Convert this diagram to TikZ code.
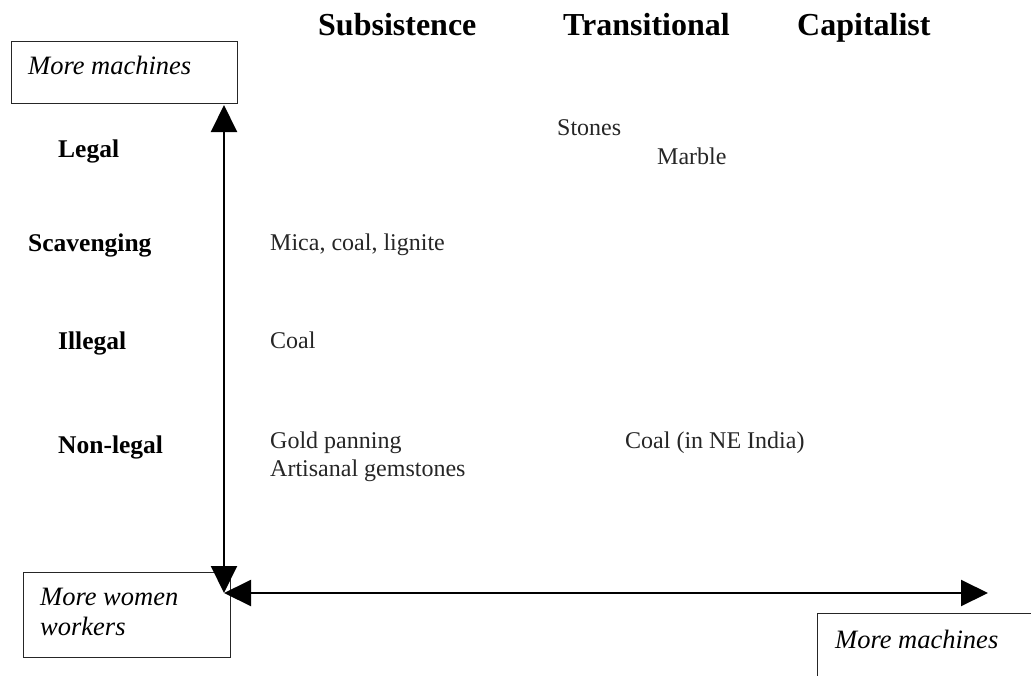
\documentclass[tikz,border=0pt]{standalone}
\usepackage{fontspec}
\setmainfont{Liberation Serif}
\usetikzlibrary{arrows.meta}
\tikzset{
  hdr/.style={anchor=base west, inner sep=0pt, font=\fontsize{32}{36}\selectfont\bfseries},
  rowlab/.style={anchor=base west, inner sep=0pt, font=\fontsize{25.5}{29}\selectfont\bfseries},
  item/.style={anchor=base west, inner sep=0pt, text=black!85, font=\fontsize{24}{28}\selectfont},
  boxtxt/.style={anchor=base west, inner sep=0pt, font=\fontsize{26.5}{30}\selectfont\itshape},
  framebox/.style={draw=black!85, line width=1.4pt},
  axis/.style={line width=2pt, {Triangle[length=27pt,width=26pt]}-{Triangle[length=27pt,width=26pt]}}
}
\begin{document}
\begin{tikzpicture}[x=1pt,y=-1pt]
\useasboundingbox (0,0) rectangle (1031,675);
\clip (0,0) rectangle (1031,675);
\fill[white] (0,0) rectangle (1031,675);
% headers
\node[hdr] (hsub) at (318,35) {Subsistence};
\node[hdr] (htra) at (563,35) {Transitional};
\node[hdr] (hcap) at (797,35) {Capitalist};
% boxes
\node[framebox, draw, minimum width=226pt, minimum height=62pt, anchor=north west, inner sep=0pt] (bmach) at (11,41) {};
\node[boxtxt] (tmach) at (28,74) {More machines};
\node[framebox, draw, minimum width=207pt, minimum height=85pt, anchor=north west, inner sep=0pt] (bwomen) at (23,572) {};
\node[boxtxt] (twomen1) at (40,605) {More women};
\node[boxtxt] (twomen2) at (40,635) {workers};
\node[framebox, draw, minimum width=240pt, minimum height=90pt, anchor=north west, inner sep=0pt] (bmach2) at (817,613) {};
\node[boxtxt] (tmach2) at (835,648) {More machines};
% row labels
\node[rowlab] (legal) at (58,157) {Legal};
\node[rowlab] (scav) at (28,251) {Scavenging};
\node[rowlab] (illegal) at (58,349) {Illegal};
\node[rowlab] (nonlegal) at (58,453) {Non-legal};
% items
\node[item] (stones) at (557,135) {Stones};
\node[item] (marble) at (657,164) {Marble};
\node[item] (mica) at (270,250) {Mica, coal, lignite};
\node[item] (coal) at (270,348) {Coal};
\node[item] (gold) at (270,448) {Gold panning};
\node[item] (gems) at (270,476) {Artisanal gemstones};
\node[item] (coalne) at (625,448) {Coal (in NE India)};
% axes
\coordinate (vtop) at (224,105);
\coordinate (orig) at (224,593);
\coordinate (hend) at (988,593);
\draw[axis] (vtop) -- (orig);
\draw[axis] (orig) -- (hend);
\end{tikzpicture}
\end{document}
